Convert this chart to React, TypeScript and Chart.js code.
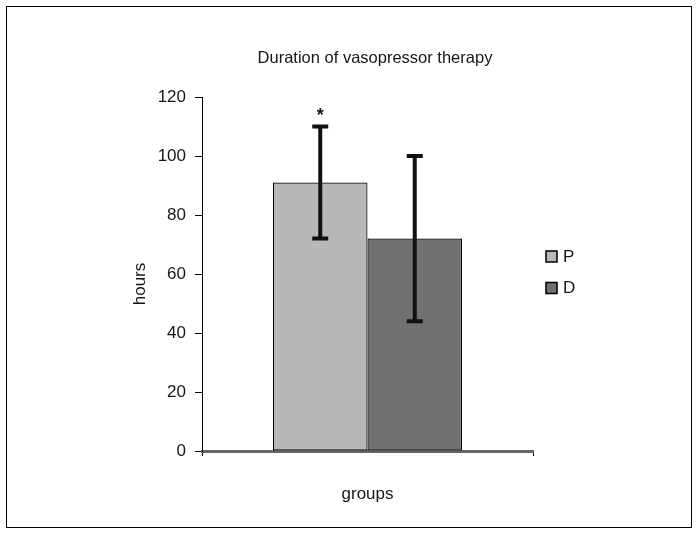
import React, { useEffect, useRef } from "react";
import { Chart, registerables } from "chart.js";

Chart.register(...registerables);

const categories = ["groups"];
const seriesNames = ["P", "D"];
const seriesValues = [91, 72];
const seriesErrors = [19, 28];
const seriesColors = ["#b8b8b8", "#717171"];
const yTicks = [0, 20, 40, 60, 80, 100, 120];
const chartTitle = "Duration of vasopressor therapy";
const yTitle = "hours";
const xTitle = "groups";
const significance = ["*", ""];

const FONT = "'Liberation Sans', Arial, sans-serif";
const TEXT = "#151515";

const decorPlugin = {
  id: "decor",
  beforeDraw(chart: any) {
    const ctx = chart.ctx;
    ctx.save();
    ctx.fillStyle = "#ffffff";
    ctx.fillRect(0, 0, chart.width, chart.height);
    ctx.strokeStyle = "#000";
    ctx.lineWidth = 1;
    ctx.strokeRect(6.5, 6.5, 685, 521);
    ctx.restore();
  },
  afterDraw(chart: any) {
    const ctx = chart.ctx;
    const area = chart.chartArea;
    const yScale = chart.scales.y;
    ctx.save();
    // error bars
    chart.data.datasets.forEach((ds: any, i: number) => {
      const meta = chart.getDatasetMeta(i);
      meta.data.forEach((bar: any, j: number) => {
        const v = ds.data[j];
        const e = seriesErrors[i];
        const yTop = yScale.getPixelForValue(v + e);
        const yBot = yScale.getPixelForValue(v - e);
        ctx.strokeStyle = "#111";
        ctx.lineWidth = 4;
        ctx.beginPath();
        ctx.moveTo(bar.x, yTop);
        ctx.lineTo(bar.x, yBot);
        ctx.stroke();
        ctx.beginPath();
        ctx.moveTo(bar.x - 8, yTop);
        ctx.lineTo(bar.x + 8, yTop);
        ctx.moveTo(bar.x - 8, yBot);
        ctx.lineTo(bar.x + 8, yBot);
        ctx.stroke();
        if (significance[i]) {
          ctx.fillStyle = TEXT;
          ctx.font = `bold 18px ${FONT}`;
          ctx.textAlign = "center";
          ctx.textBaseline = "middle";
          ctx.fillText(significance[i], bar.x, yTop - 10);
        }
      });
    });
    // title
    ctx.fillStyle = TEXT;
    ctx.font = `16.5px ${FONT}`;
    ctx.textAlign = "center";
    ctx.textBaseline = "middle";
    ctx.fillText(chartTitle, 375, 58);
    // x title
    ctx.font = `17px ${FONT}`;
    ctx.fillText(xTitle, (area.left + area.right) / 2, 494);
    // y title
    ctx.save();
    ctx.translate(140, 284);
    ctx.rotate(-Math.PI / 2);
    ctx.fillText(yTitle, 0, 0);
    ctx.restore();
    // legend
    chart.data.datasets.forEach((ds: any, i: number) => {
      const cy = 257 + i * 31.5;
      ctx.fillStyle = ds.backgroundColor;
      ctx.fillRect(546, cy - 6, 11, 11);
      ctx.strokeStyle = "#000";
      ctx.lineWidth = 1.5;
      ctx.strokeRect(546, cy - 6, 11, 11);
      ctx.fillStyle = TEXT;
      ctx.font = `17px ${FONT}`;
      ctx.textAlign = "left";
      ctx.textBaseline = "middle";
      ctx.fillText(ds.label, 563, cy);
    });
    ctx.restore();
  },
};

export default function App() {
  const ref = useRef<HTMLCanvasElement | null>(null);
  useEffect(() => {
    document.body.style.margin = "0";
    const canvas = ref.current!;
    const chart = new Chart(canvas, {
      type: "bar",
      data: {
        labels: categories,
        datasets: seriesNames.map((name, i) => ({
          label: name,
          data: [seriesValues[i]],
          backgroundColor: seriesColors[i],
          borderColor: "#000",
          borderWidth: 1.2,
          borderSkipped: false,
          categoryPercentage: 0.571,
          barPercentage: 1,
        })),
      },
      options: {
        animation: false,
        responsive: false,
        maintainAspectRatio: false,
        layout: { padding: { left: 0, top: 97, right: 166, bottom: 0 } },
        plugins: {
          legend: { display: false },
          title: { display: false },
          tooltip: { enabled: false },
        },
        scales: {
          x: {
            afterFit(s: any) {
              s.height = 84;
            },
            grid: {
              drawOnChartArea: false,
              drawTicks: true,
              tickLength: 5,
              color: "#000",
              offset: true,
            },
            border: { display: true, color: "#666", width: 3 },
            ticks: { display: false },
          },
          y: {
            min: 0,
            max: 120,
            afterFit(s: any) {
              s.width = 202;
            },
            afterBuildTicks(s: any) {
              s.ticks = yTicks.map((v) => ({ value: v }));
            },
            grid: {
              drawOnChartArea: false,
              drawTicks: true,
              tickLength: 7,
              color: "#000",
            },
            border: { display: true, color: "#000", width: 1 },
            ticks: {
              padding: 9,
              color: TEXT,
              font: { family: FONT, size: 17 },
            },
          },
        },
      },
      plugins: [decorPlugin],
    });
    return () => chart.destroy();
  }, []);
  return <canvas ref={ref} width={699} height={535} style={{ display: "block" }} />;
}
